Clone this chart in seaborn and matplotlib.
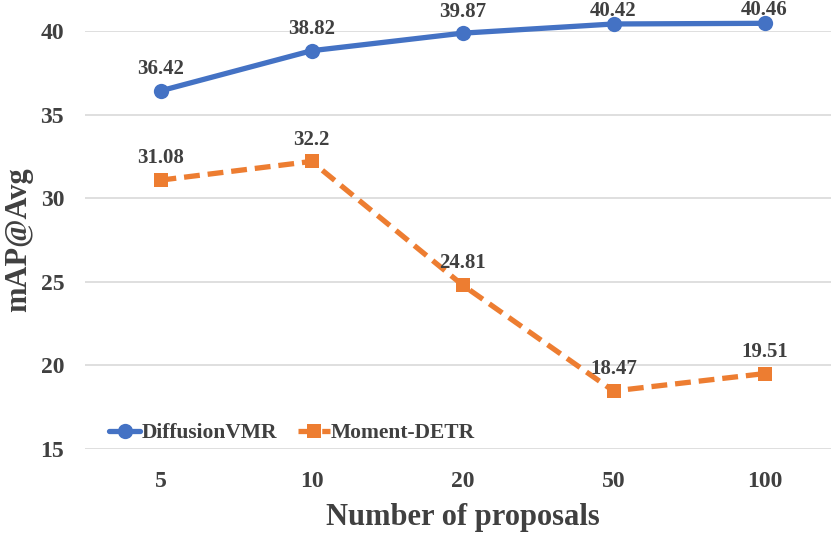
import matplotlib
matplotlib.use("Agg")
import matplotlib.pyplot as plt
import seaborn as sns
import pandas as pd

proposals = ["5", "10", "20", "50", "100"]
diffusion_vmr = [36.42, 38.82, 39.87, 40.42, 40.46]
moment_detr = [31.08, 32.2, 24.81, 18.47, 19.51]
diffusion_labels = ["36.42", "38.82", "39.87", "40.42", "40.46"]
moment_labels = ["31.08", "32.2", "24.81", "18.47", "19.51"]

sns.set_theme(style="white")
plt.rcParams["font.family"] = ["Liberation Serif", "DejaVu Serif"]
plt.rcParams["font.weight"] = "bold"

df = pd.DataFrame({
    "proposals": proposals * 2,
    "value": diffusion_vmr + moment_detr,
    "model": ["DiffusionVMR"] * 5 + ["Moment-DETR"] * 5,
})

fig = plt.figure(figsize=(8.31, 5.34), dpi=100)
ax = fig.add_axes([85 / 831, 85 / 534, 755 / 831, 418 / 534])

blue = "#4472C4"
orange = "#ED7D31"
text_col = "#404040"

sns.lineplot(data=df[df.model == "DiffusionVMR"], x="proposals", y="value",
             color=blue, linewidth=3.8, marker="o", markersize=11,
             markeredgewidth=0, label="DiffusionVMR", ax=ax, sort=False, clip_on=False)
sns.lineplot(data=df[df.model == "Moment-DETR"], x="proposals", y="value",
             color=orange, linewidth=3.8, linestyle=(0, (3, 1.5)), marker="s",
             markersize=10.5, markeredgewidth=0, label="Moment-DETR", ax=ax, sort=False,
             clip_on=False)

for i, (v, t) in enumerate(zip(diffusion_vmr + moment_detr, diffusion_labels + moment_labels)):
    i = i % 5
    # labels near the top edge get squeezed down like in the original
    off = 6 if v > 40.2 else 12
    ax.annotate(t, (i, v), xytext=(0, off), textcoords="offset points",
                ha="center", va="baseline", fontsize=15, fontweight="bold",
                color=text_col, annotation_clip=False)

ax.set_xlim(-0.5, 4.5)
ax.set_ylim(15, 40)
ax.set_yticks([15, 20, 25, 30, 35, 40])
ax.yaxis.grid(True, color="#D9D9D9", linewidth=1.2)
ax.xaxis.grid(False)
for s in ax.spines.values():
    s.set_visible(False)
ax.tick_params(axis="both", length=0, labelsize=17, colors=text_col)
ax.tick_params(axis="x", pad=16)
ax.tick_params(axis="y", pad=15)
for lbl in ax.get_xticklabels() + ax.get_yticklabels():
    lbl.set_fontweight("bold")

ax.set_xlabel("Number of proposals", fontsize=22, fontweight="bold", color=text_col, labelpad=8)
ax.set_ylabel("mAP@Avg", fontsize=22, fontweight="bold", color=text_col, labelpad=5)

leg = ax.legend(loc="center left", bbox_to_anchor=(0.032, 0.038), ncol=2, frameon=False,
                borderpad=0, borderaxespad=0, handlelength=1.45, handletextpad=0.05,
                columnspacing=1.0, prop={"weight": "bold", "size": 15.5})
for t in leg.get_texts():
    t.set_color(text_col)

fig.savefig("out.png", dpi=100)
